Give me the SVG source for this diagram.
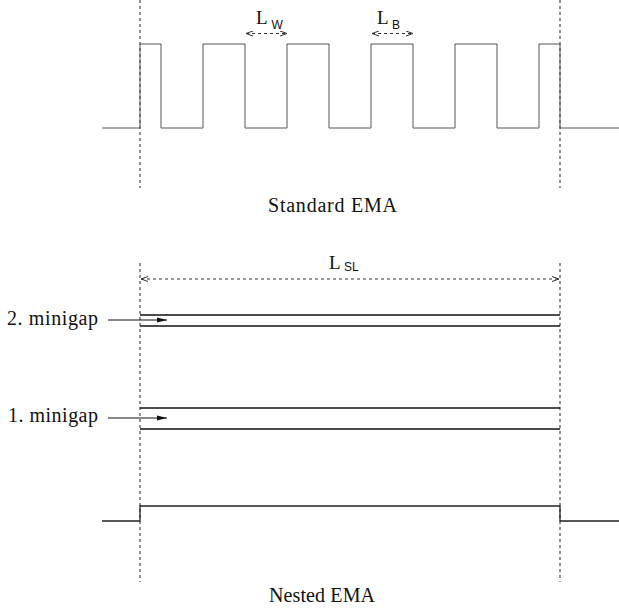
<svg xmlns="http://www.w3.org/2000/svg" width="619" height="610" viewBox="0 0 619 610">
<style>
text{font-family:"Liberation Serif","Times New Roman",serif;fill:#111}
.lbl{font-size:20px}
.L{font-size:19px}
.sub{font-size:12px;font-family:"Liberation Sans",Arial,sans-serif}
.guide{stroke:#222;stroke-width:1;stroke-dasharray:3 3;fill:none}
.wave{stroke:#555;stroke-width:1;fill:none}
.wave2{stroke:#222;stroke-width:1.3;fill:none}
.gap{stroke:#111;stroke-width:1.4;fill:none}
.dim{stroke:#333;stroke-width:1;stroke-dasharray:3 3;fill:none}
.arr{stroke:#111;stroke-width:1;fill:none}
</style>
<defs>
<marker id="openHead" markerWidth="8" markerHeight="6" refX="7" refY="3" orient="auto-start-reverse" markerUnits="userSpaceOnUse">
<path d="M0,0.5 L7,3 L0,5.5" fill="none" stroke="#333" stroke-width="1"/>
</marker>
<marker id="solidHead" markerWidth="11" markerHeight="6" refX="10" refY="3" orient="auto" markerUnits="userSpaceOnUse">
<path d="M0,0.5 L10,3 L0,5.5 Z" fill="#111"/>
</marker>
</defs>

<g id="standard-ema">
<line class="guide" x1="140" y1="0" x2="140" y2="188"/>
<line class="guide" x1="560" y1="0" x2="560" y2="188"/>
<path class="wave" d="M102,128 H140 V44 H161 V128 H203 V44 H245 V128 H287 V44 H329 V128 H371 V44 H413 V128 H455 V44 H497 V128 H539 V44 H560 V128 H619"/>
<text class="lbl" x="268" y="211.5" textLength="129" lengthAdjust="spacing">Standard EMA</text>
</g>

<g id="label-LW">
<text class="L" x="256" y="24">L</text>
<text class="sub" x="271.5" y="28.5">W</text>
</g>
<g id="label-LB">
<text class="L" x="377" y="24">L</text>
<text class="sub" x="392" y="28.5">B</text>
</g>

<g id="nested-ema">
<line class="guide" x1="140" y1="263" x2="140" y2="582"/>
<line class="guide" x1="560" y1="263" x2="560" y2="582"/>
<line class="gap" x1="140" y1="315" x2="560" y2="315"/>
<line class="gap" x1="140" y1="326" x2="560" y2="326"/>
<line class="gap" x1="140" y1="408" x2="560" y2="408"/>
<line class="gap" x1="140" y1="429" x2="560" y2="429"/>
<path class="wave2" d="M102,521 H140 V506 H560 V521 H619"/>
<text class="lbl" x="269" y="602" textLength="106" lengthAdjust="spacing">Nested EMA</text>
</g>

<g id="label-LSL">
<text class="L" x="329" y="269">L</text>
<text class="sub" x="344" y="271">SL</text>
</g>

<g id="minigap-2">
<text class="lbl" x="7" y="325" textLength="91" lengthAdjust="spacing">2. minigap</text>
</g>
<g id="minigap-1">
<text class="lbl" x="8" y="422" textLength="90" lengthAdjust="spacing">1. minigap</text>
</g>

<g id="connectors">
<line class="dim" x1="246" y1="33.5" x2="287" y2="33.5" marker-start="url(#openHead)" marker-end="url(#openHead)"/>
<line class="dim" x1="372" y1="33.5" x2="413" y2="33.5" marker-start="url(#openHead)" marker-end="url(#openHead)"/>
<line class="dim" x1="141" y1="279" x2="559" y2="279" marker-start="url(#openHead)" marker-end="url(#openHead)"/>
<line class="arr" x1="108" y1="320" x2="167" y2="320" marker-end="url(#solidHead)"/>
<line class="arr" x1="108" y1="418" x2="167" y2="418" marker-end="url(#solidHead)"/>
</g>
</svg>
